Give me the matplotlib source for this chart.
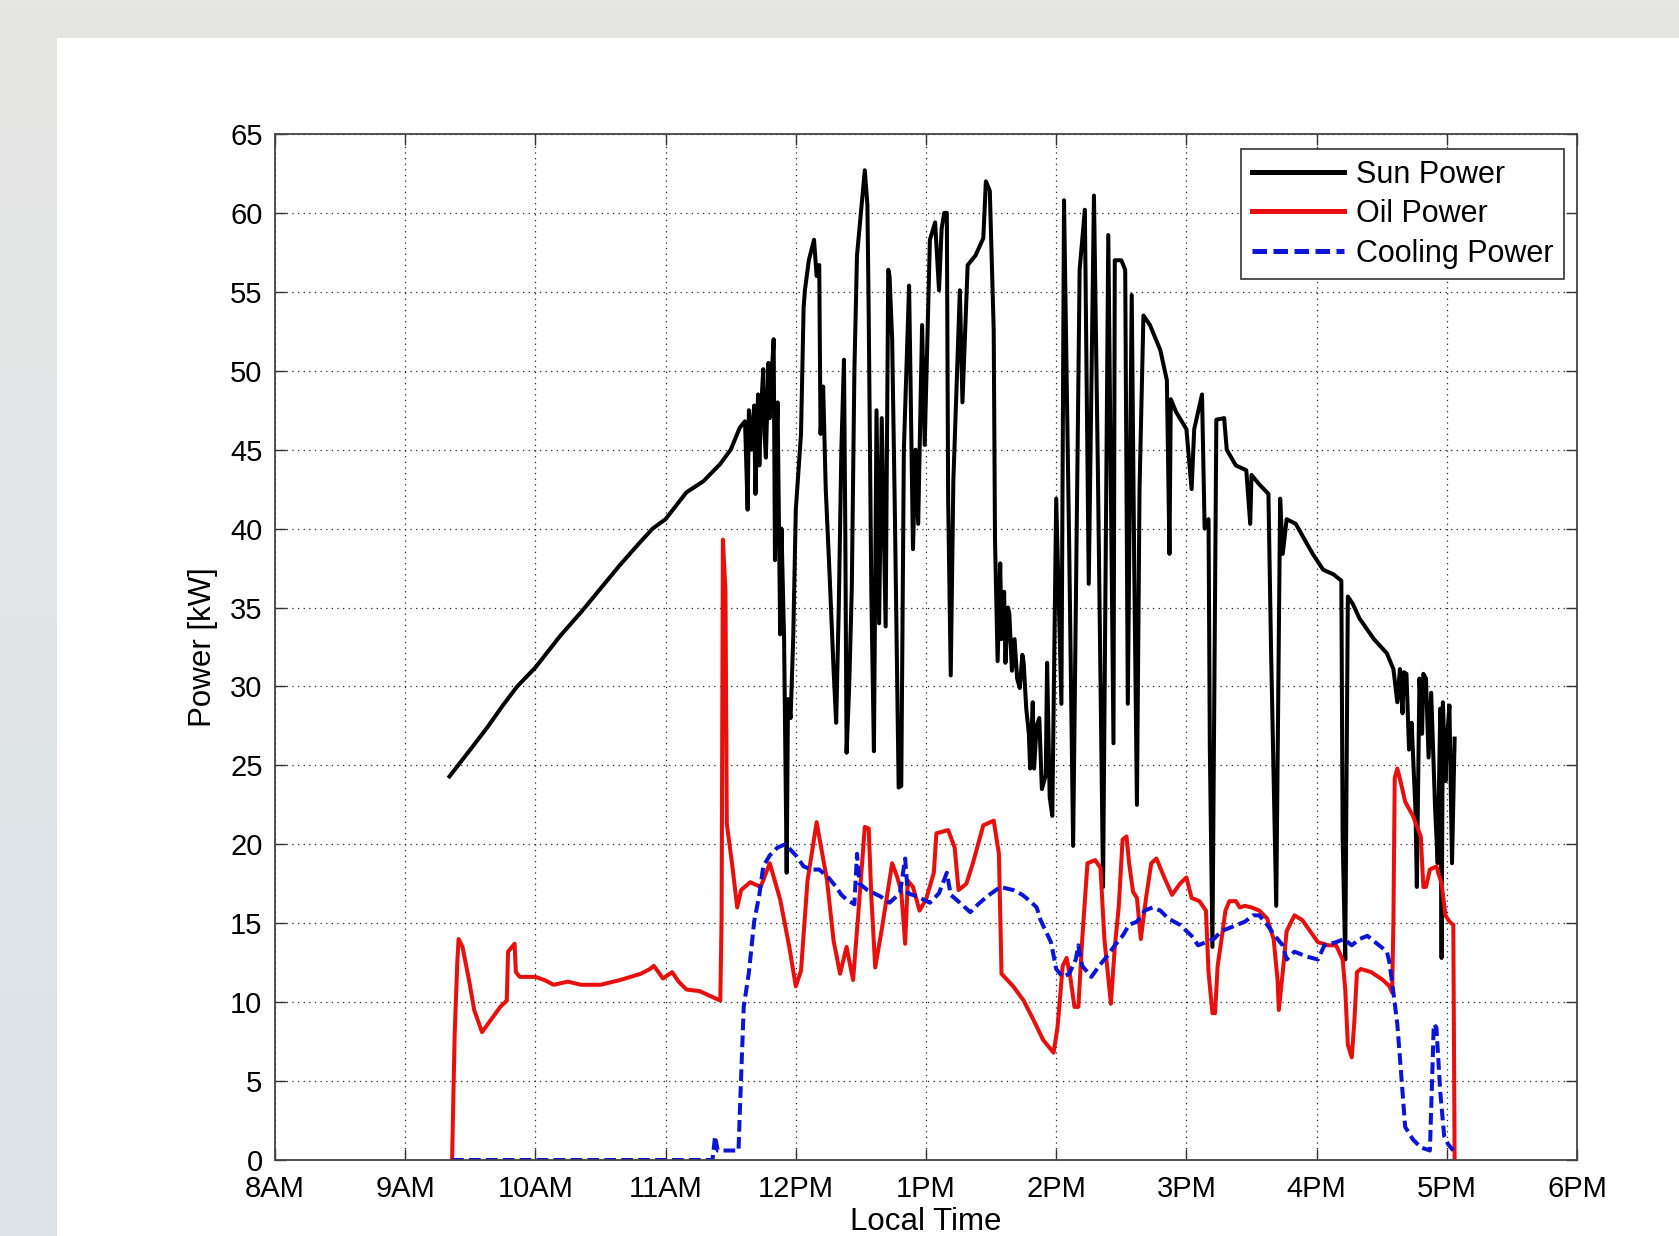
import numpy as np
import matplotlib
matplotlib.use("Agg")
import matplotlib.pyplot as plt
from matplotlib.patches import Rectangle
from matplotlib.colors import LinearSegmentedColormap

# ---------------- data (time in decimal hours, power in kW) ----------------
sun_time = [9.34, 9.50, 9.63, 9.75, 9.86, 10.00, 10.19, 10.35, 10.50, 10.65, 10.80, 10.90,
            11.00, 11.16, 11.29, 11.42, 11.50, 11.57, 11.61,
            11.63, 11.64, 11.66, 11.68, 11.69, 11.71, 11.72, 11.73, 11.75, 11.76, 11.77,
            11.79, 11.80, 11.81, 11.83, 11.84, 11.85, 11.86, 11.88, 11.89, 11.91, 11.93,
            11.94, 11.96, 11.98, 12.00,
            12.04, 12.06, 12.07, 12.10, 12.14, 12.16, 12.18, 12.19, 12.21, 12.23, 12.26,
            12.29, 12.31, 12.33, 12.35, 12.37, 12.38, 12.39, 12.41, 12.43, 12.45, 12.47,
            12.50, 12.53, 12.55, 12.56, 12.58, 12.60, 12.62, 12.64, 12.66, 12.69, 12.71,
            12.72, 12.74, 12.76, 12.79, 12.81, 12.83, 12.87, 12.88, 12.90, 12.92, 12.94,
            12.97, 12.99, 13.03, 13.07, 13.10, 13.12, 13.14, 13.16, 13.17, 13.19, 13.21,
            13.26, 13.28, 13.32, 13.38, 13.44, 13.46, 13.49, 13.52, 13.53, 13.55, 13.57,
            13.58, 13.60, 13.61, 13.63, 13.64, 13.66, 13.68, 13.70, 13.72, 13.74, 13.75,
            13.77, 13.79, 13.80, 13.82, 13.83, 13.85, 13.87, 13.89, 13.92, 13.93, 13.95,
            13.97, 14.00, 14.04, 14.06, 14.10, 14.13, 14.18, 14.22, 14.25, 14.29, 14.32,
            14.36, 14.40, 14.44, 14.45, 14.50, 14.53, 14.55, 14.58, 14.60, 14.62, 14.64,
            14.67, 14.72, 14.80, 14.85, 14.87, 14.88, 14.92, 15.00, 15.04, 15.06, 15.12,
            15.14, 15.17, 15.18, 15.20, 15.23, 15.29, 15.31, 15.38, 15.46, 15.49, 15.50,
            15.56, 15.63, 15.65, 15.69, 15.72, 15.74, 15.77, 15.84, 15.97, 16.05, 16.13,
            16.19, 16.20, 16.22, 16.24, 16.28, 16.33, 16.44, 16.54, 16.59, 16.62, 16.64,
            16.66, 16.67, 16.69, 16.71, 16.73, 16.76, 16.77, 16.79, 16.81, 16.82, 16.84,
            16.86, 16.88, 16.91, 16.93, 16.95, 16.96, 16.97, 16.99, 17.00, 17.02, 17.04,
            17.06]
sun_kw = [24.3, 26.0, 27.4, 28.8, 30.0, 31.2, 33.2, 34.7, 36.2, 37.7, 39.1, 40.0,
          40.6, 42.3, 43.0, 44.1, 45.0, 46.4, 46.8,
          41.2, 47.5, 45.0, 47.8, 42.2, 48.5, 44.0, 47.0, 50.1, 46.0, 44.5,
          50.5, 47.0, 49.0, 52.0, 38.0, 45.0, 48.0, 33.3, 40.0, 33.0, 18.2,
          29.2, 28.0, 33.0, 41.2,
          46.0, 54.0, 55.1, 57.0, 58.3, 56.0, 56.7, 46.0, 49.0, 42.5, 37.0,
          31.1, 27.7, 35.0, 45.0, 50.7, 40.0, 25.8, 30.0, 36.2, 50.0, 57.3,
          60.0, 62.7, 60.5, 53.5, 36.0, 25.9, 47.5, 34.0, 47.0, 33.8, 56.4,
          56.0, 52.0, 41.5, 23.6, 23.7, 45.0, 55.4, 50.0, 38.7, 45.0, 40.3,
          52.9, 45.3, 58.3, 59.4, 55.1, 59.0, 60.0, 60.0, 41.9, 30.7, 43.0,
          55.1, 48.0, 56.7, 57.3, 58.4, 62.0, 61.4, 52.6, 39.3, 31.6, 37.8,
          33.0, 36.0, 31.5, 35.0, 34.6, 31.0, 33.0, 30.5, 29.9, 32.0, 31.5,
          28.6, 27.0, 24.8, 29.0, 24.8, 27.5, 28.0, 23.5, 24.4, 31.5, 23.0,
          21.8, 41.9, 28.9, 60.8, 38.7, 19.9, 56.4, 60.2, 36.5, 61.1, 43.8,
          17.3, 58.6, 26.4, 57.0, 57.0, 56.4, 28.9, 54.8, 37.1, 22.5, 42.5,
          53.5, 52.9, 51.3, 49.4, 38.4, 48.2, 47.4, 46.3, 42.5, 46.3, 48.5,
          40.0, 40.6, 26.1, 13.5, 46.9, 47.0, 45.0, 44.0, 43.7, 40.3, 43.4,
          42.8, 42.2, 32.4, 16.1, 41.9, 38.4, 40.6, 40.3, 38.4, 37.4, 37.1,
          36.7, 20.4, 12.7, 35.7, 35.2, 34.3, 33.0, 32.1, 31.1, 29.0, 31.1,
          28.3, 30.9, 30.8, 26.0, 27.7, 22.0, 17.3, 30.5, 27.0, 30.8, 30.5,
          25.5, 29.6, 22.3, 18.8, 28.6, 12.8, 29.0, 24.0, 26.4, 28.8, 18.8,
          26.7]

oil_time = [9.36, 9.38, 9.40, 9.41, 9.44, 9.49, 9.53, 9.59, 9.66, 9.73, 9.78, 9.79,
            9.84, 9.85, 9.88, 10.00, 10.07, 10.14, 10.25, 10.35, 10.50, 10.65, 10.81,
            10.88, 10.91, 10.98, 11.05, 11.10, 11.16, 11.26, 11.34, 11.42, 11.43, 11.44,
            11.46, 11.47, 11.51, 11.55, 11.58, 11.65, 11.73, 11.80, 11.88, 11.95, 12.00,
            12.04, 12.09, 12.16, 12.24, 12.29, 12.34, 12.39, 12.44, 12.48, 12.53, 12.56,
            12.58, 12.61, 12.66, 12.74, 12.78, 12.81, 12.84, 12.86, 12.90, 12.95, 13.00,
            13.06, 13.08, 13.17, 13.22, 13.25, 13.31, 13.36, 13.44, 13.52, 13.56, 13.58,
            13.67, 13.75, 13.83, 13.90, 13.98, 14.01, 14.05, 14.08, 14.11, 14.14, 14.17,
            14.20, 14.24, 14.30, 14.34, 14.37, 14.40, 14.42, 14.45, 14.48, 14.51, 14.54,
            14.56, 14.59, 14.62, 14.65, 14.69, 14.73, 14.77, 14.83, 14.89, 14.95, 15.00,
            15.04, 15.10, 15.15, 15.17, 15.20, 15.22, 15.24, 15.27, 15.30, 15.33, 15.38,
            15.41, 15.45, 15.50, 15.56, 15.62, 15.67, 15.70, 15.71, 15.74, 15.77, 15.83,
            15.89, 15.95, 16.01, 16.09, 16.15, 16.20, 16.22, 16.24, 16.27, 16.29, 16.31,
            16.34, 16.42, 16.51, 16.56, 16.58, 16.59, 16.60, 16.62, 16.65, 16.68, 16.74,
            16.80, 16.82, 16.84, 16.87, 16.92, 16.96, 16.99, 17.02, 17.05, 17.06]
oil_kw = [0.0, 8.0, 12.5, 14.0, 13.5, 11.4, 9.5, 8.1, 8.9, 9.7, 10.1, 13.2,
          13.7, 11.9, 11.6, 11.6, 11.4, 11.1, 11.3, 11.1, 11.1, 11.4, 11.8,
          12.1, 12.3, 11.5, 11.9, 11.3, 10.8, 10.7, 10.4, 10.1, 15.3, 39.3,
          36.0, 21.3, 18.8, 16.0, 17.1, 17.6, 17.3, 18.8, 16.5, 13.5, 11.0,
          12.0, 17.7, 21.4, 17.7, 13.9, 11.8, 13.5, 11.4, 15.6, 21.1, 21.0,
          16.7, 12.2, 14.6, 18.8, 17.9, 17.0, 13.7, 17.7, 17.3, 15.8, 16.5,
          18.2, 20.7, 20.9, 19.8, 17.1, 17.5, 18.8, 21.2, 21.5, 19.4, 11.8,
          11.0, 10.1, 8.8, 7.6, 6.8, 8.4, 12.3, 12.8, 11.5, 9.7, 9.7,
          14.0, 18.8, 19.0, 18.5, 14.0, 11.5, 9.9, 13.5, 16.0, 20.3, 20.5,
          18.8, 17.0, 16.6, 14.0, 16.6, 18.8, 19.1, 17.9, 16.8, 17.5, 17.9,
          16.6, 16.4, 15.8, 11.9, 9.3, 9.3, 12.3, 14.0, 15.8, 16.4, 16.4,
          16.0, 16.1, 16.0, 15.8, 15.3, 14.0, 11.4, 9.5, 11.9, 14.5, 15.5,
          15.2, 14.5, 13.8, 13.6, 13.6, 12.7, 10.8, 7.3, 6.5, 8.8, 11.9,
          12.1, 11.9, 11.4, 11.0, 10.6, 15.1, 24.2, 24.8, 23.8, 22.7, 21.8,
          20.5, 17.3, 17.3, 18.4, 18.6, 17.5, 15.5, 15.1, 14.9, 0.0]

cool_time = [9.36, 11.36, 11.38, 11.40, 11.50, 11.56, 11.57, 11.60, 11.64, 11.68, 11.72,
             11.75, 11.80, 11.86, 11.92, 12.00, 12.06, 12.12, 12.18, 12.25, 12.31, 12.35,
             12.39, 12.45, 12.47, 12.49, 12.55, 12.65, 12.72, 12.80, 12.84, 12.86, 12.93,
             13.03, 13.10, 13.16, 13.19, 13.26, 13.34, 13.40, 13.47, 13.57, 13.67, 13.74,
             13.80, 13.85, 13.88, 13.92, 13.96, 14.00, 14.05, 14.10, 14.15, 14.17, 14.20,
             14.27, 14.33, 14.39, 14.45, 14.51, 14.56, 14.62, 14.68, 14.74, 14.80, 14.86,
             14.95, 15.04, 15.09, 15.15, 15.21, 15.27, 15.33, 15.39, 15.45, 15.51, 15.56,
             15.62, 15.68, 15.74, 15.77, 15.83, 15.92, 16.01, 16.06, 16.15, 16.21, 16.27,
             16.33, 16.39, 16.48, 16.54, 16.56, 16.59, 16.62, 16.65, 16.68, 16.74, 16.80,
             16.87, 16.88, 16.90, 16.92, 16.95, 16.98, 17.01, 17.05]
cool_kw = [0.0, 0.0, 1.5, 0.6, 0.6, 0.6, 3.0, 9.7, 11.9, 15.1, 16.8,
           18.6, 19.3, 19.8, 20.0, 19.3, 18.6, 18.4, 18.4, 17.9, 17.3, 16.8,
           16.5, 16.2, 19.4, 17.5, 17.1, 16.7, 16.3, 16.9, 19.1, 16.9, 16.7,
           16.3, 16.9, 18.2, 16.8, 16.3, 15.7, 16.2, 16.7, 17.3, 17.1, 16.8,
           16.4, 16.0, 15.2, 14.5, 13.8, 12.1, 11.6, 11.8, 12.7, 13.6, 12.3,
           11.6, 12.3, 12.9, 13.6, 14.2, 14.9, 15.1, 15.8, 16.0, 15.8, 15.3,
           14.9, 14.2, 13.6, 13.8, 14.0, 14.5, 14.7, 14.9, 15.1, 15.5, 15.5,
           14.9, 14.2, 13.6, 12.7, 13.2, 12.9, 12.7, 13.6, 13.8, 14.0, 13.6,
           14.0, 14.2, 13.6, 13.2, 12.5, 10.6, 8.6, 5.4, 2.1, 1.3, 0.8,
           0.6, 3.2, 8.6, 8.4, 4.3, 1.5, 1.0, 0.6]

hour_ticks = [8, 9, 10, 11, 12, 13, 14, 15, 16, 17, 18]
hour_labels = ['8AM', '9AM', '10AM', '11AM', '12PM', '1PM', '2PM', '3PM', '4PM', '5PM', '6PM']
power_ticks = [0, 5, 10, 15, 20, 25, 30, 35, 40, 45, 50, 55, 60, 65]
series_names = ['Sun Power', 'Oil Power', 'Cooling Power']

# ---------------- figure ----------------
W, H = 1679, 1236
plt.rcParams['font.family'] = ['Liberation Sans', 'DejaVu Sans']
fig = plt.figure(figsize=(W / 100, H / 100), dpi=100, facecolor='#e6e6e4')

# background: light gray frame with a bluish gradient on the left, white panel
bg = fig.add_axes([0, 0, 1, 1], zorder=-10)
bg.set_axis_off()
grad = np.linspace(0, 1, 256).reshape(-1, 1)
cmap = LinearSegmentedColormap.from_list('bgc', ['#dce4ea', '#e6e6e4'])
bg.imshow(grad, cmap=cmap, aspect='auto', extent=[0, 1, 0, 1], origin='lower')
bg.add_patch(Rectangle((57 / W, 0), 1 - 57 / W, 1 - 38 / H, facecolor='white',
                       edgecolor='none', transform=bg.transAxes))
bg.set_xlim(0, 1)
bg.set_ylim(0, 1)

left, right, top, bottom = 275, 1577, 134, 1160
ax = fig.add_axes([left / W, 1 - bottom / H, (right - left) / W, (bottom - top) / H])
ax.set_facecolor('white')

lw = 2.9
ax.plot(sun_time, sun_kw, color='black', lw=lw, label=series_names[0])
ax.plot(oil_time, oil_kw, color='#e8100c', lw=lw, label=series_names[1])
ax.plot(cool_time, cool_kw, color='#0c14d8', lw=lw, dashes=(2.9, 1.3), label=series_names[2])

ax.set_xlim(8, 18)
ax.set_ylim(0, 65)
ax.set_xticks(hour_ticks)
ax.set_xticklabels(hour_labels)
ax.set_yticks(power_ticks)

ax.grid(True, color='#222222', linestyle=(0, (1, 3.5)), linewidth=0.9)
ax.tick_params(direction='in', length=8, width=1.0, top=True, right=True,
               labelsize=21, colors='#333333', labelcolor='black')
ax.tick_params(axis='y', pad=9)
ax.tick_params(axis='x', pad=11)
for s in ax.spines.values():
    s.set_color('#444444')
    s.set_linewidth(1.3)

ax.set_xlabel('Local Time', fontsize=22.5)
ax.xaxis.label.set_va('center')
ax.xaxis.set_label_coords(0.5, (bottom - 1222) / (bottom - top))
ax.set_ylabel('Power [kW]', fontsize=22.5)
ax.yaxis.label.set_va('center')
ax.yaxis.set_label_coords((203 - left) / (right - left), 0.5)

leg = ax.legend(loc='upper right', bbox_to_anchor=(1 - 13 / (right - left), 1 - 15 / (bottom - top)),
                fontsize=22, frameon=True, fancybox=False, shadow=False, framealpha=1,
                edgecolor='#333333', handlelength=3.0, handletextpad=0.4, labelspacing=0.31,
                borderpad=0.35, borderaxespad=0)
leg.get_frame().set_linewidth(1.2)
for line in leg.get_lines():
    line.set_linewidth(3.6)

fig.savefig('out.png', dpi=100, facecolor=fig.get_facecolor())
